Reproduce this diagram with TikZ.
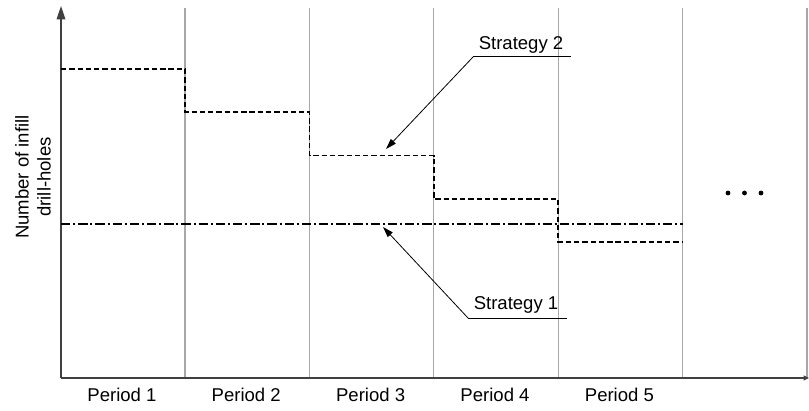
\documentclass[tikz,border=0pt]{standalone}
\usepackage{fontspec}
\setmainfont{Liberation Sans}
\usetikzlibrary{arrows.meta, positioning, calc}
\definecolor{cgrid}{HTML}{A8A8A8}
\definecolor{caxis}{HTML}{404040}
\tikzset{
  every picture/.style={font=\fontsize{13.9}{16.5}\selectfont, line width=0.75pt},
  gridline/.style={draw=cgrid, line width=0.8pt},
  axis/.style={draw=caxis, line width=1pt, -{Triangle[length=10pt, width=6.5pt]}},
  plan2/.style={draw=black, line width=1.2pt, dash pattern=on 4pt off 2.2pt},
  plan1/.style={draw=black, line width=1.1pt, dash pattern=on 7pt off 2.2pt on 1.5pt off 2.2pt},
  callout/.style={draw=black, line width=0.6pt, -{Triangle[length=8pt, width=5pt]}},
  label/.style={inner sep=1pt},
}

\begin{document}
\begin{tikzpicture}[x=0.75pt, y=-0.75pt, dot/.style={circle, fill=black, inner sep=0pt, minimum size=3.6pt}]
  \useasboundingbox (0,0) rectangle (809,410);
  % ---- grid
  \foreach \gx in {185,309.4,433.8,558.2,682.6,807} {
    \draw[gridline] (\gx,8) -- (\gx,378);
  }
  % ---- axes
  \coordinate (o) at (61,378);
  \coordinate (ytop) at (61,6);
  \coordinate (xend) at (809,378);
  \draw[axis] (o) -- (ytop);
  \draw[draw=caxis, line width=1pt, -{Triangle[length=4pt, width=3.5pt]}] (o) -- (xend);
  \node[align=center, rotate=90] (ylab) at (33,177) {Number of infill\\drill-holes};
  \foreach \i/\cx in {1/122,2/246.2,3/370.6,4/495,5/619.4} {
    \node (p\i) at (\cx,395) {Period \i};
  }
  % ---- strategy 2: decreasing steps
  \draw[plan2] (61,69) -- (185,69) -- (185,112) -- (309.4,112) -- (309.4,155.5)
    -- (433.8,155.5) -- (433.8,199) -- (558.2,199) -- (558.2,242) -- (682.6,242);
  % ---- strategy 1: constant level
  \draw[plan1] (61,224) -- (682.6,224);
  % ---- callouts
  \node[label] (s2) at (521,45) {Strategy 2};
  \coordinate (s2a) at (473,57);
  \coordinate (s2b) at (571,57);
  \coordinate (s2tip) at (386,149);
  \draw (s2a) -- (s2b);
  \draw[callout] (s2a) -- (s2tip);
  \node[label] (s1) at (516,305) {Strategy 1};
  \coordinate (s1a) at (468,318);
  \coordinate (s1b) at (567,318);
  \coordinate (s1tip) at (383,227);
  \draw (s1a) -- (s1b);
  \draw[callout] (s1a) -- (s1tip);
  % ---- more periods
  \node[dot] (d1) at (728,193) {};
  \node[dot] (d2) at (744.5,193) {};
  \node[dot] (d3) at (761,193) {};
\end{tikzpicture}
\end{document}
